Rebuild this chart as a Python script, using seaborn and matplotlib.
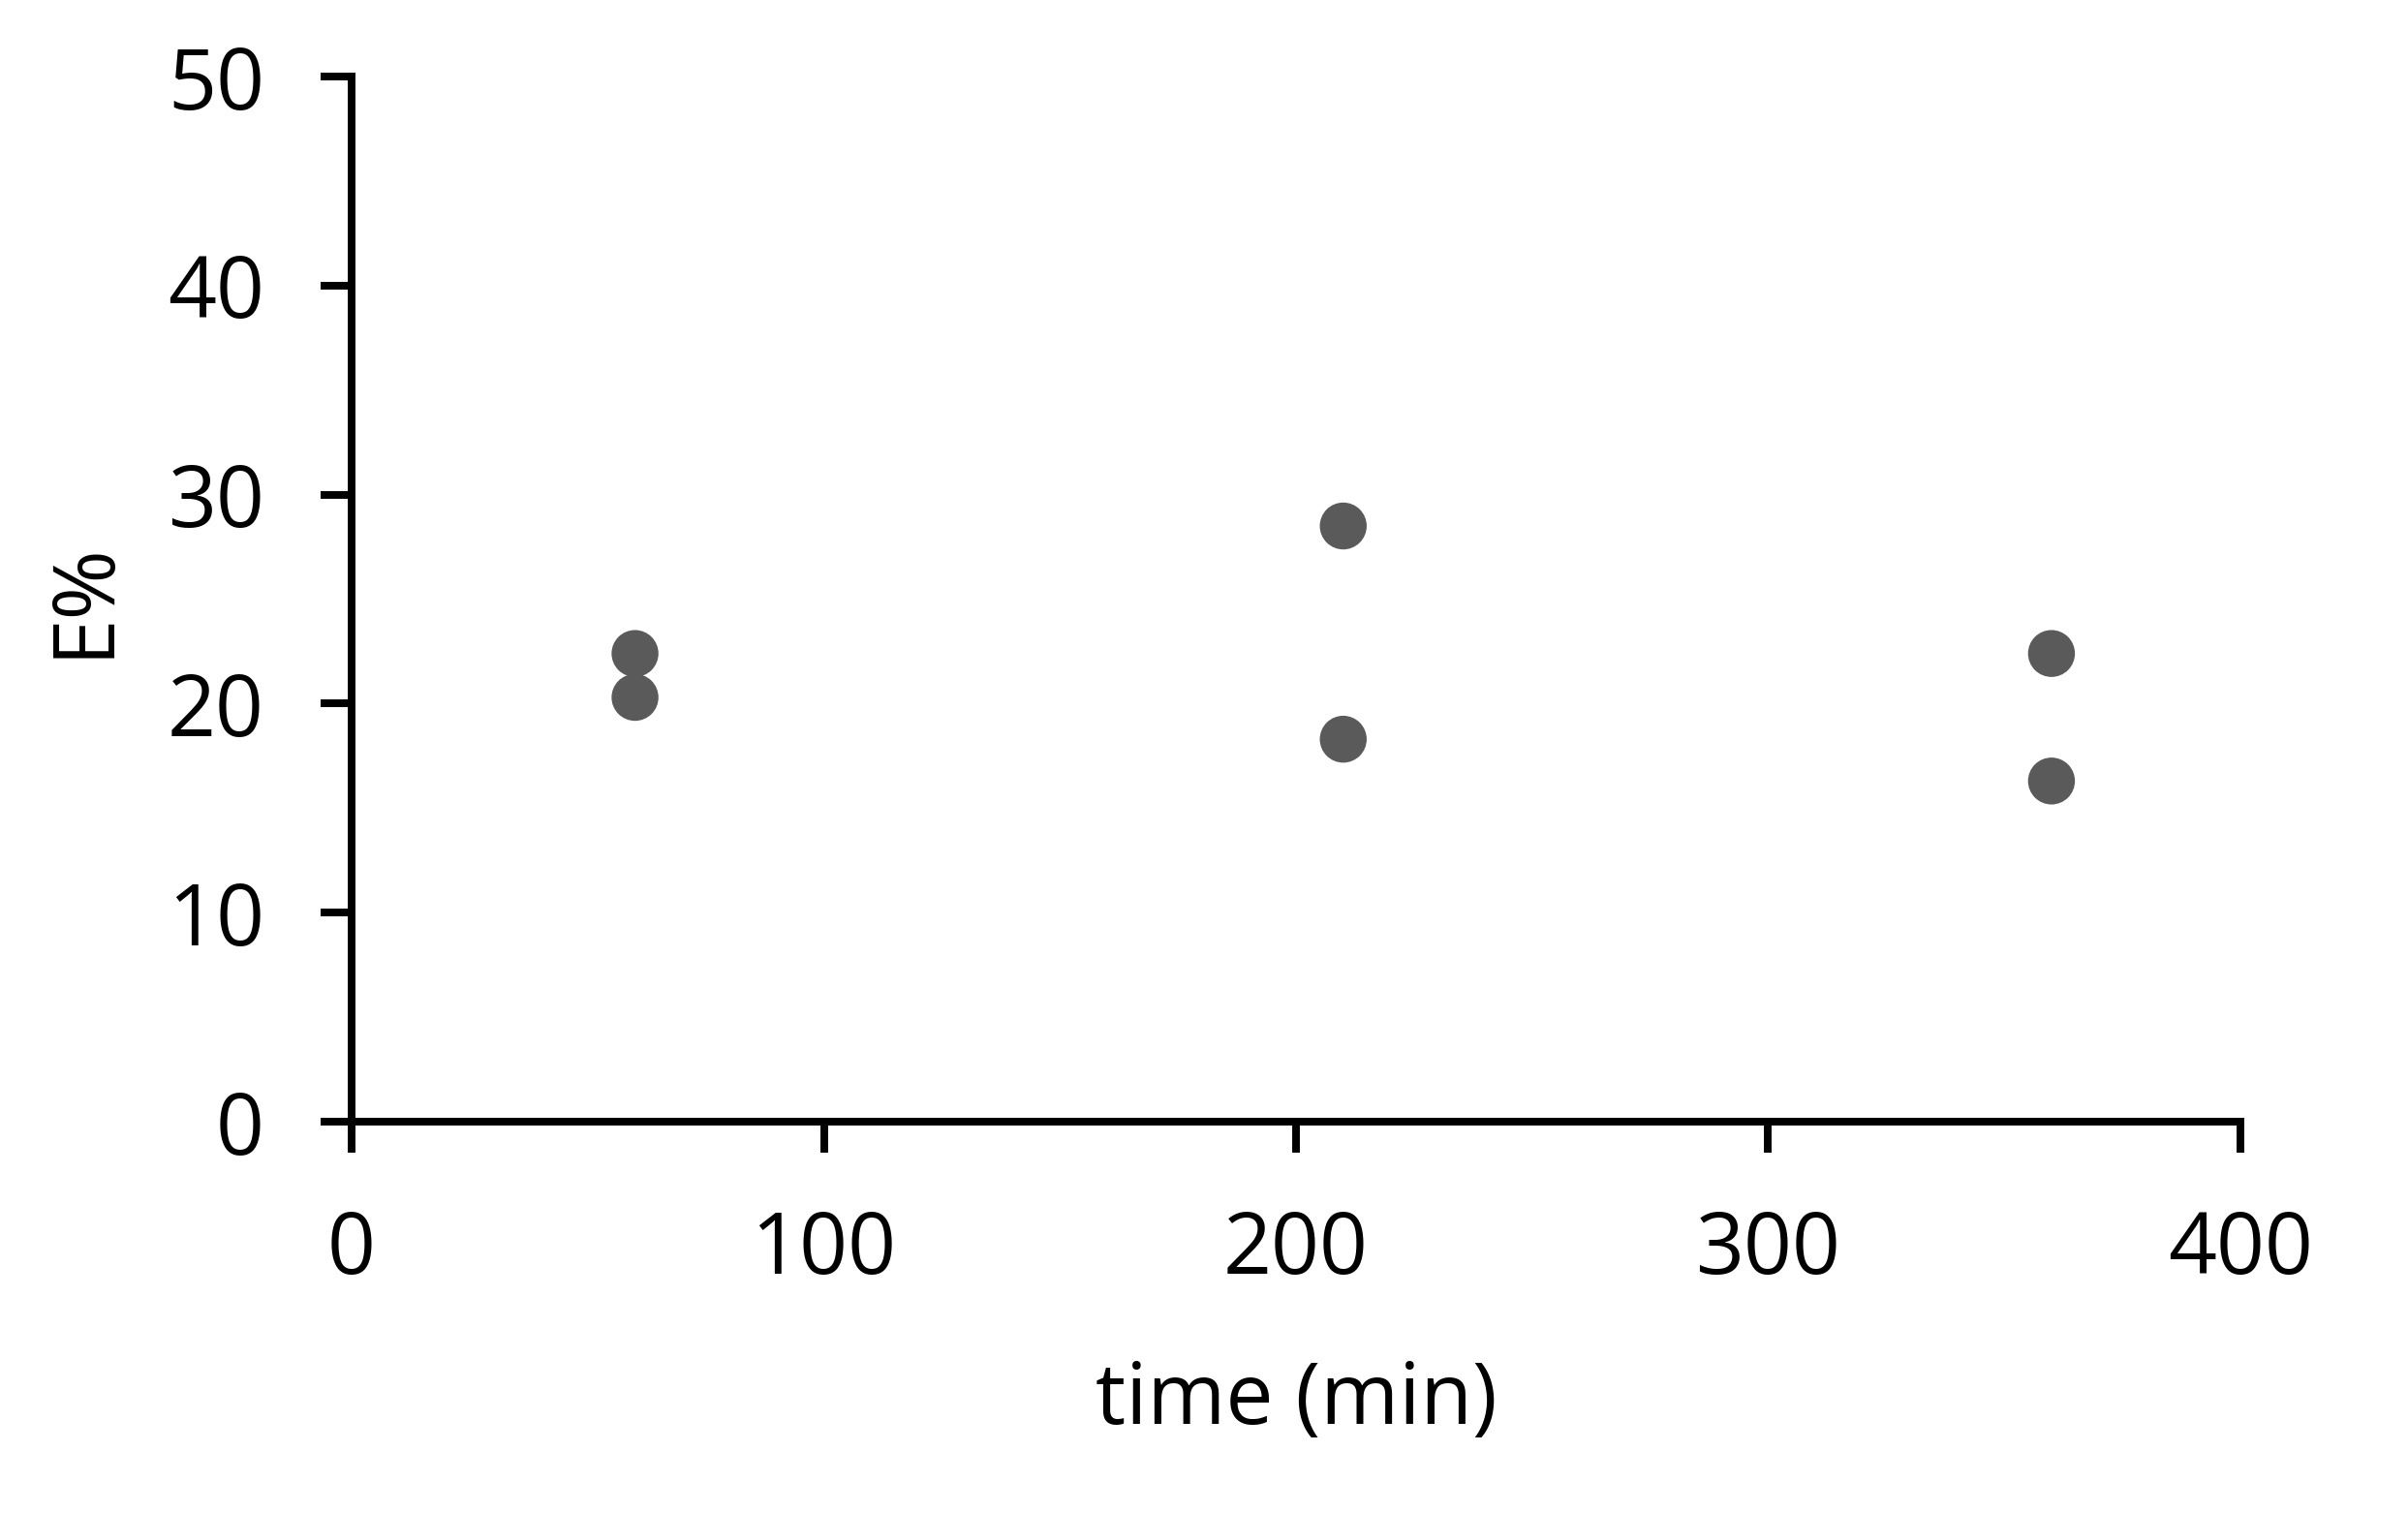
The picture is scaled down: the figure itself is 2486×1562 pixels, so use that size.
import matplotlib
matplotlib.use('Agg')
import matplotlib.pyplot as plt
import seaborn as sns
import pandas as pd

# values
time_min = [60, 60, 210, 210, 360, 360]
e_pct = [22.4, 20.3, 28.5, 18.3, 22.4, 16.3]

data = pd.DataFrame({'time': time_min, 'E': e_pct})

sns.set_style('white')
plt.rcParams['font.family'] = ['Open Sans', 'DejaVu Sans']
plt.rcParams['text.color'] = 'black'
plt.rcParams['axes.labelcolor'] = 'black'
plt.rcParams['xtick.color'] = 'black'
plt.rcParams['ytick.color'] = 'black'

fig = plt.figure(figsize=(2487/300, 1562/300), dpi=300)
ax = fig.add_axes([0.146, 0.2586, 0.784, 0.6908])

sns.scatterplot(data=data, x='time', y='E', ax=ax, s=135, color='#5a5a5a',
                edgecolor='none', zorder=3)

ax.set_xlim(0, 400)
ax.set_ylim(0, 50)
ax.set_xticks([0, 100, 200, 300, 400])
ax.set_yticks([0, 10, 20, 30, 40, 50])

for side in ['top', 'right']:
    ax.spines[side].set_visible(False)
for side in ['left', 'bottom']:
    ax.spines[side].set_linewidth(1.9)
    ax.spines[side].set_color('black')

ax.tick_params(axis='both', direction='out', length=7.6, width=1.9,
               color='black', labelcolor='black', labelsize=21, pad=14,
               left=True, bottom=True)

ax.set_xlabel('time (min)', fontsize=21, labelpad=16)
ax.set_ylabel('E%', fontsize=21, labelpad=10)

fig.savefig('out.png', dpi=300)
